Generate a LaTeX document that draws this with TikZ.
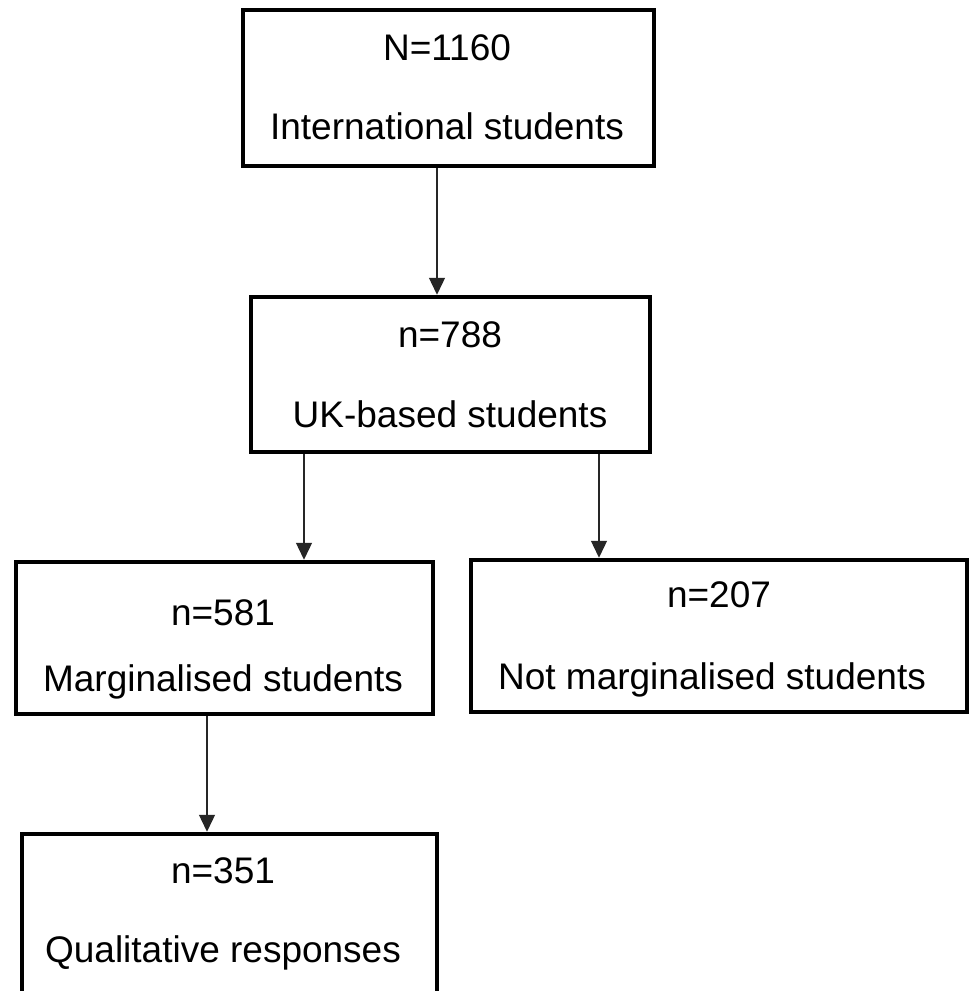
\documentclass[tikz,border=0pt]{standalone}
\usepackage{fontspec}
\setmainfont{Liberation Sans}
\usetikzlibrary{arrows.meta}
\tikzset{
  box/.style={draw=black, line width=4.5pt, rectangle, inner sep=0pt, fill=none},
  lbl/.style={anchor=base, inner sep=0pt, font=\fontsize{37}{44}\selectfont, text=black},
  arr/.style={draw=black!85, line width=1.3pt, -{Triangle[width=16pt,length=17pt]}}
}
\begin{document}
\begin{tikzpicture}[x=1pt,y=-1pt]
\clip (0,0) rectangle (969,991);
\fill[white] (0,0) rectangle (969,991);
% boxes
\node[box, minimum width=411pt, minimum height=156pt] (b1) at (448.5,88) {};
\node[box, minimum width=399pt, minimum height=155pt] (b2) at (450.5,374.5) {};
\node[box, minimum width=417pt, minimum height=152pt] (b3) at (224.5,638) {};
\node[box, minimum width=496pt, minimum height=152pt] (b4) at (719,636) {};
\node[box, minimum width=415pt, minimum height=176pt] (b5) at (229.5,922) {};
% texts
\node[lbl] (t1a) at (447,60) {N=1160};
\node[lbl] (t1b) at (447,139) {International students};
\node[lbl] (t2a) at (450,347) {n=788};
\node[lbl] (t2b) at (450,427) {UK-based students};
\node[lbl] (t3a) at (223,625) {n=581};
\node[lbl] (t3b) at (223,691) {Marginalised students};
\node[lbl] (t4a) at (719,607) {n=207};
\node[lbl] (t4b) at (712,689) {Not marginalised students};
\node[lbl] (t5a) at (223,883) {n=351};
\node[lbl] (t5b) at (223,962) {Qualitative responses};
% connector x positions
\coordinate (x1) at (437,0);
\coordinate (x2) at (304,0);
\coordinate (x3) at (599,0);
\coordinate (x4) at (207,0);
\draw[arr] (x1 |- b1.south) -- (x1 |- b2.north);
\draw[arr] (x2 |- b2.south) -- (x2 |- b3.north);
\draw[arr] (x3 |- b2.south) -- (x3 |- b4.north);
\draw[arr] (x4 |- b3.south) -- (x4 |- b5.north);
\end{tikzpicture}
\end{document}
